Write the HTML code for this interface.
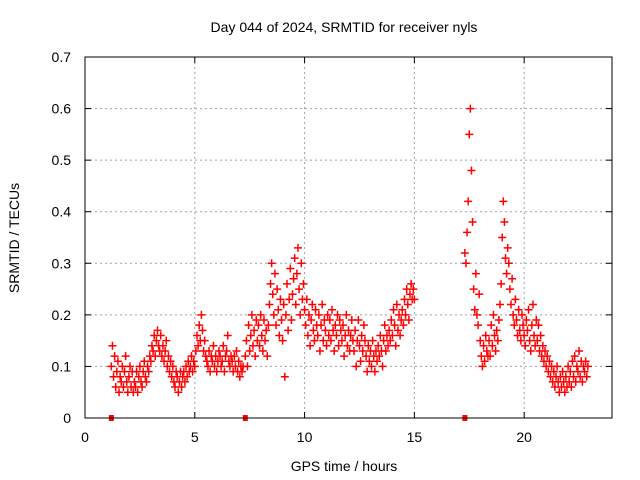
<!DOCTYPE html>
<html><head><meta charset="utf-8"><style>
body{margin:0;background:#fff;}
svg{display:block;font-family:"Liberation Sans",sans-serif;}
</style></head><body>
<svg id="chart" width="640" height="480">
<text x="344" y="32" font-size="14" text-anchor="middle">Day 044 of 2024, SRMTID for receiver nyls</text>
<text x="344" y="471" font-size="14" text-anchor="middle">GPS time / hours</text>
<text transform="translate(19,238) rotate(-90)" font-size="14" text-anchor="middle">SRMTID / TECUs</text>
<g id="grid"></g>
<g id="ticks"></g>
<g id="marks"></g>
<rect x="85" y="57" width="527" height="361" fill="none" stroke="#000" stroke-width="1"/>
</svg>
<script>
const xTicks=[0,5,10,15,20];
const yTicks=[0,0.1,0.2,0.3,0.4,0.5,0.6,0.7];
const yTickLabels=["0","0.1","0.2","0.3","0.4","0.5","0.6","0.7"];
const segStarts=[1.2,7.3,17.3];
const segStep=0.05;
const seg1=[.10,.14,.08,.12,.06,.09,.11,.05,.08,.07,.10,.06,.09,.12,.07,.05,.08,.10,.06,.09,.05,.07,.06,.09,.05,.08,.10,.07,.06,.09,.11,.08,.07,.10,.09,.12,.11,.14,.13,.16,.12,.15,.17,.14,.13,.16,.12,.14,.11,.13,.15,.10,.12,.09,.11,.08,.10,.07,.06,.09,.08,.05,.07,.09,.06,.08,.09,.07,.10,.08,.11,.09,.10,.12,.09,.11,.10,.13,.16,.14,.18,.15,.20,.17,.13,.15,.12,.11,.10,.13,.09,.12,.11,.14,.10,.12,.09,.11,.13,.12,.10,.11,.14,.09,.12,.13,.16,.11,.10,.12,.11,.09,.12,.10,.13,.09,.11,.08,.10,.09,.10];
const seg2=[.12,.15,.10,.18,.13,.16,.20,.14,.17,.12,.19,.15,.18,.14,.20,.16,.13,.19,.15,.17,.12,.18,.22,.26,.30,.24,.20,.28,.18,.25,.21,.16,.23,.19,.15,.22,.08,.20,.26,.17,.23,.29,.19,.24,.27,.31,.22,.28,.33,.25,.20,.30,.23,.26,.21,.18,.23,.16,.20,.14,.19,.22,.17,.15,.21,.18,.16,.20,.13,.18,.22,.15,.19,.17,.14,.20,.16,.19,.15,.21,.17,.13,.18,.16,.20,.14,.19,.17,.15,.18,.12,.16,.20,.14,.17,.13,.16,.19,.15,.13,.17,.10,.15,.19,.14,.11,.16,.13,.18,.15,.12,.09,.14,.11,.13,.10,.15,.12,.09,.13,.11,.14,.12,.16,.13,.10,.15,.18,.13,.16,.14,.17,.15,.19,.16,.21,.18,.14,.22,.17,.20,.16,.19,.21,.18,.23,.20,.25,.22,.19,.24,.26,.23,.25,.23];
const seg3=[.32,.30,.36,.42,.55,.60,.48,.38,.25,.21,.28,.20,.18,.24,.15,.12,.10,.14,.11,.16,.13,.12,.15,.12,.18,.14,.20,.16,.13,.17,.15,.19,.22,.26,.35,.42,.38,.31,.28,.33,.30,.25,.22,.27,.20,.18,.23,.19,.16,.21,.17,.15,.20,.18,.16,.14,.19,.17,.21,.15,.13,.18,.22,.16,.14,.19,.15,.18,.13,.16,.12,.14,.11,.13,.10,.12,.09,.11,.08,.10,.07,.09,.06,.08,.10,.07,.05,.08,.06,.09,.07,.05,.08,.06,.10,.07,.09,.06,.11,.08,.12,.07,.10,.09,.13,.08,.11,.07,.10,.09,.11,.08,.10];
const segments=[seg1,seg2,seg3];
const gapMarkers=[1.2,7.3,17.3];

const X0=85,X1=612,Y0=418,Y1=57;
const xs=v=>X0+(v/24)*(X1-X0);
const ys=v=>Y0-(v/0.7)*(Y0-Y1);
const NS="http://www.w3.org/2000/svg";
function mk(t,a,p){const e=document.createElementNS(NS,t);for(const k in a)e.setAttribute(k,a[k]);p.appendChild(e);return e;}
const grid=document.getElementById('grid'),ticks=document.getElementById('ticks'),marks=document.getElementById('marks');
xTicks.forEach(v=>{
  const x=xs(v);
  if(v>0){const g=mk('line',{x1:x,x2:x,y1:Y1,y2:Y0,stroke:'#a0a0a0','stroke-dasharray':'2,3'},grid);
  
  }
  mk('line',{x1:x,x2:x,y1:Y0,y2:Y0-6,stroke:'#000'},ticks);
  mk('line',{x1:x,x2:x,y1:Y1,y2:Y1+6,stroke:'#000'},ticks);
  const t=mk('text',{x:x,y:442,'font-size':14,'text-anchor':'middle'},ticks);t.textContent=v;
  
  
});
yTicks.forEach((v,i)=>{
  const y=ys(v);
  if(v>0&&v<0.7){const g=mk('line',{x1:X0,x2:X1,y1:y,y2:y,stroke:'#a0a0a0','stroke-dasharray':'2,3'},grid);
  
  }
  mk('line',{x1:X0,x2:X0+6,y1:y,y2:y,stroke:'#000'},ticks);
  mk('line',{x1:X1,x2:X1-6,y1:y,y2:y,stroke:'#000'},ticks);
  const t=mk('text',{x:71,y:y+5,'font-size':14,'text-anchor':'end'},ticks);t.textContent=yTickLabels[i];
  
  
});
segments.forEach((seg,si)=>{
  seg.forEach((v,i)=>{
    const x=xs(segStarts[si]+i*segStep),y=ys(v);
    const p=mk('path',{d:`M${x-4},${y}h8M${x},${y-4}v8`,stroke:'#ff0000','stroke-width':1.5,fill:'none'},marks);
    
    
  });
});
gapMarkers.forEach(v=>{
  const r=mk('rect',{x:xs(v)-2.5,y:Y0-3,width:5,height:6,fill:'#ff0000'},marks);
  
  
});
</script>
</body></html>
